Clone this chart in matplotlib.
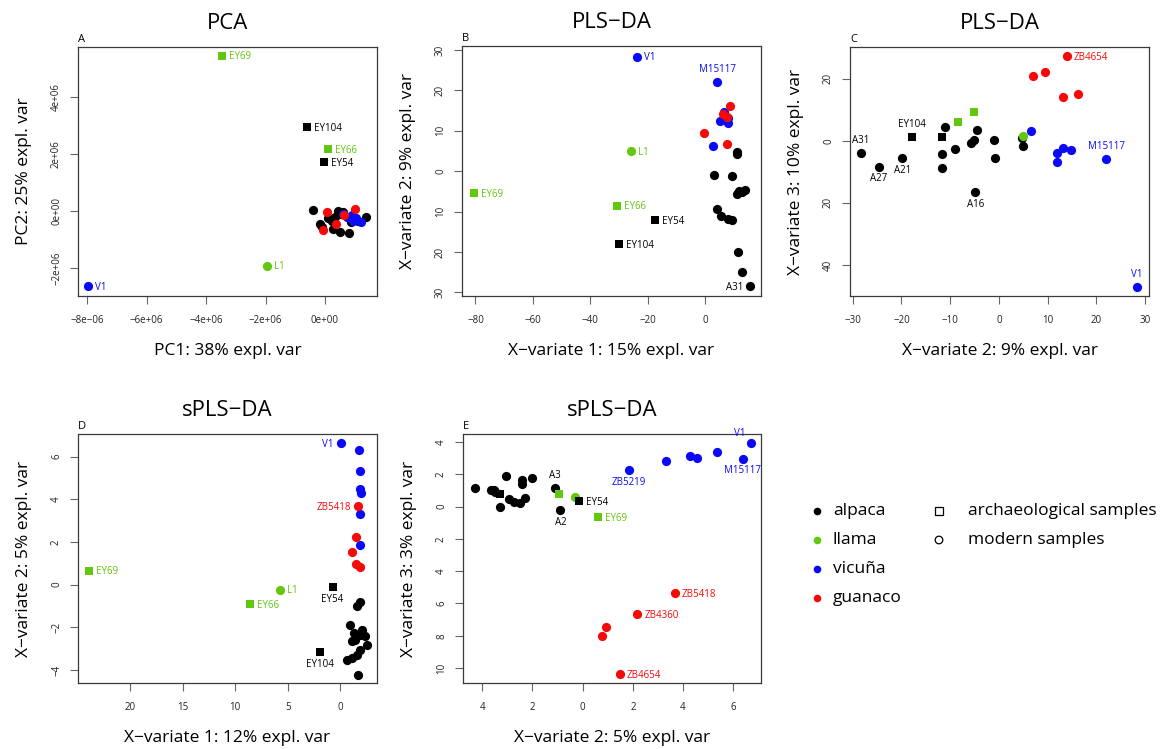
import matplotlib
matplotlib.use("Agg")
import matplotlib.pyplot as plt

plt.rcParams["font.family"] = ["Open Sans", "DejaVu Sans"]

W, H = 1166, 749

# sample order: 15 alpaca, llama L1, 7 vicuña, 5 guanaco, 4 archaeological
sample_ids = ["A31", "A27", "A21", "A16", "A3", "A2", "A5", "A7", "A9", "A11",
              "A12", "A14", "A18", "A23", "A25",
              "L1",
              "V1", "M15117", "ZB5219", "V2", "V3", "V4", "V5",
              "ZB4654", "ZB5418", "ZB4360", "G1", "G2",
              "EY104", "EY54", "EY66", "EY69"]
species = ["alpaca"] * 15 + ["llama"] + ["vicuña"] * 7 + ["guanaco"] * 5 + \
          ["alpaca", "alpaca", "llama", "llama"]
archaeological = [False] * 28 + [True] * 4

# A: PCA (units of 1e6)
pca_x = [-0.39, 0.45, 0.53, 1.38, -0.17, 0.11, 0.28, 0.50, 0.80, 0.23,
         0.87, 0.60, -0.10, 1.10, 0.35,
         -1.96,
         -7.96, 0.62, 0.90, 0.95, 1.20, 1.05, 0.75,
         0.08, 1.02, 0.36, -0.06, 0.65,
         -0.62, -0.03, 0.09, -3.48]
pca_y = [0.04, 0.01, -0.11, -0.22, -0.47, -0.26, -0.64, -0.73, -0.76, -0.34,
         -0.40, -0.05, -0.55, -0.35, -0.20,
         -1.92,
         -2.64, -0.12, -0.14, -0.34, -0.38, -0.25, -0.20,
         -0.04, 0.06, -0.47, -0.67, -0.15,
         2.95, 1.73, 2.18, 5.46]

# B: PLS-DA comp 1 vs 2
plsb_x = [15.7, 12.8, 11.6, 9.3, 11.0, 3.1, 9.3, 11.0, 12.8, 14.0,
          12.0, 4.3, 5.5, 8.1, 11.2,
          -25.8,
          -23.8, 4.3, 6.7, 5.2, 8.1, 8.1, 2.7,
          8.7, -0.3, 7.6, 6.2, 7.5,
          -29.9, -17.4, -30.6, -80.5]
plsb_y = [-28.5, -25.0, -20.0, -12.0, 4.7, -0.9, -1.2, -5.6, -5.2, -4.6,
          -4.9, -9.3, -11.2, -11.8, 4.3,
          4.9,
          28.4, 22.0, 14.6, 12.5, 13.2, 12.0, 6.3,
          16.2, 9.4, 6.8, 14.2, 13.5,
          -18.0, -12.0, -8.5, -5.4]

# C: PLS-DA comp 2 vs 3
plsc_x = [-28.3, -24.7, -19.8, -4.8, -11.1, -11.6, -11.7, -9.1, -5.7, -5.2,
          -4.5, -1.1, -0.7, 4.7, 5.0,
          5.0,
          28.3, 22.0, 6.5, 12.0, 13.2, 14.7, 11.9,
          13.9, 6.9, 9.5, 13.2, 16.3,
          -17.8, -11.7, -8.4, -5.1]
plsc_y = [-3.8, -8.3, -5.6, -16.6, 4.3, -4.3, -8.7, -2.7, -0.8, 0.1,
          3.5, 0.3, -5.7, 0.9, -1.8,
          1.6,
          -47.0, -5.9, 3.3, -3.8, -2.4, -3.1, -7.0,
          27.2, 20.8, 22.2, 14.1, 15.2,
          1.1, 1.1, 6.0, 9.2]

# D: sPLS-DA comp 1 vs 2
splsd_x = [1.84, 1.59, 0.95, 1.27, 1.11, 1.90, 2.38, 2.54, 1.90, 1.59,
           0.63, 1.11, 1.68, 1.43, 2.06,
           -5.71,
           0.06, 1.75, 1.90, 1.84, 1.97, 1.90, 1.84,
           1.52, 1.68, 1.11, 1.52, 1.90,
           -1.90, -0.73, -8.63, -23.9]
splsd_y = [-0.83, -0.98, -1.88, -2.27, -2.66, -2.34, -2.42, -2.81, -3.05, -3.28,
           -3.52, -3.44, -4.22, -2.58, -2.11,
           -0.23,
           6.64, 6.33, 5.31, 4.48, 4.30, 3.33, 1.84,
           2.22, 3.67, 1.53, 0.97, 0.83,
           -3.17, -0.13, -0.89, 0.66]

# E: sPLS-DA comp 2 vs 3
splse_x = [-4.31, -3.05, -2.40, -2.40, -1.09, -0.89, -2.03, -3.66, -3.48, -2.95,
           -2.75, -2.49, -2.29, -3.31, -3.55,
           -0.30,
           6.70, 6.38, 1.83, 5.34, 4.55, 4.28, 3.33,
           1.47, 3.68, 2.18, 0.92, 0.79,
           -3.28, -0.16, -0.96, 0.63]
splse_y = [1.16, 1.92, 1.67, 1.43, 1.16, -0.19, 1.78, 1.05, 0.93, 0.48,
           0.27, 0.23, 0.54, -0.02, 1.01,
           0.60,
           3.95, 2.98, 2.29, 3.39, 3.02, 3.16, 2.81,
           -10.35, -5.35, -6.65, -7.48, -8.00,
           0.81, 0.33, 0.81, -0.66]

# which samples get a text label in each panel, and on which side
labels_a = {"EY69": "r", "EY104": "r", "EY66": "r", "EY54": "r", "L1": "r", "V1": "r"}
labels_b = {"V1": "r", "M15117": "t", "L1": "r", "EY69": "r", "EY66": "r",
            "EY54": "r", "EY104": "r", "A31": "l"}
labels_c = {"ZB4654": "r", "M15117": "t", "V1": "t", "EY104": "t", "A31": "t",
            "A27": "b", "A21": "b", "A16": "b"}
labels_d = {"V1": "l", "ZB5418": "l", "EY69": "r", "L1": "r", "EY66": "r",
            "EY54": "b", "EY104": "b"}
labels_e = {"V1": "tl", "M15117": "b", "ZB5219": "b", "ZB5418": "r", "ZB4360": "r",
            "ZB4654": "r", "A3": "t", "A2": "b", "EY54": "r", "EY69": "r"}

species_colors = {"alpaca": "#000000", "llama": "#62C70E",
                  "vicuña": "#0A0AF5", "guanaco": "#F50A0A"}


def rect(l, t, r, b):
    return [l / W, 1 - b / H, (r - l) / W, (b - t) / H]


offsets = {"r": ((5, -1), "left", "center"), "l": ((-5, -1), "right", "center"),
           "t": ((0, 5), "center", "bottom"), "b": ((0, -5), "center", "top"),
           "tl": ((-4, 3), "right", "bottom")}


def draw_panel(box, xs, ys, scale, labels, title, letter, xlabel, ylabel,
               xlim, ylim, xticks, xticklabels, yticks, yticklabels):
    ax = fig.add_axes(rect(*box))
    wpx = box[2] - box[0]
    hpx = box[3] - box[1]
    for i in range(len(xs)):
        mk = "s" if archaeological[i] else "o"
        ax.scatter(xs[i] * scale, ys[i] * scale, s=34 if mk == "s" else 44,
                   marker=mk, color=species_colors[species[i]], linewidths=0,
                   zorder=3)
        sid = sample_ids[i]
        if sid in labels:
            off, ha, va = offsets[labels[sid]]
            ax.annotate(sid, (xs[i] * scale, ys[i] * scale), xytext=off,
                        textcoords="offset points", ha=ha, va=va, fontsize=7,
                        color=species_colors[species[i]], zorder=4)
    ax.set_xlim(*xlim)
    ax.set_ylim(*ylim)
    ax.set_xticks(xticks)
    ax.set_xticklabels(xticklabels)
    ax.set_yticks(yticks)
    ax.set_yticklabels(yticklabels, rotation=90, va="center")
    ax.tick_params(direction="out", length=5.5, width=0.8, color="#666666",
                   labelsize=7, labelcolor="#222222")
    ax.tick_params(axis="x", pad=8)
    ax.tick_params(axis="y", pad=6)
    for s in ax.spines.values():
        s.set_color("#3a3a3a")
        s.set_linewidth(0.9)
    ax.text(0.5, 1 + 24 / hpx, title, transform=ax.transAxes, ha="center",
            va="center", fontsize=16)
    ax.text(0, 1 + 2 / hpx, letter, transform=ax.transAxes, ha="left",
            va="bottom", fontsize=8)
    ax.text(0.5, -55 / hpx, xlabel, transform=ax.transAxes, ha="center",
            va="center", fontsize=12.5)
    ax.text(-54 / wpx, 0.5, ylabel, transform=ax.transAxes, ha="center",
            va="center", rotation=90, fontsize=12.5)
    return ax


fig = plt.figure(figsize=(W / 100, H / 100), dpi=100)

draw_panel((78, 47, 377, 296), pca_x, pca_y, 1e6, labels_a, "PCA", "A",
           "PC1: 38% expl. var", "PC2: 25% expl. var",
           (-8.31e6, 1.75e6), (-2.99e6, 5.76e6),
           [-8e6, -6e6, -4e6, -2e6, 0],
           ["\u22128e\u221206", "\u22126e+06", "\u22124e+06", "\u22122e+06", "0e+00"],
           [-2e6, 0, 2e6, 4e6], ["\u22122e+06", "0e+00", "2e+06", "4e+06"])

draw_panel((462, 46, 761, 296), plsb_x, plsb_y, 1, labels_b, "PLS\u2212DA", "B",
           "X\u2212variate 1: 15% expl. var", "X\u2212variate 2: 9% expl. var",
           (-84.7, 19.5), (-30.9, 31.0),
           [-80, -60, -40, -20, 0],
           ["\u221280", "\u221260", "\u221240", "\u221220", "0"],
           [30, 20, 10, 0, -10, -20, -30], ["30", "20", "10", "0", "10", "20", "30"])

draw_panel((850, 47, 1149, 296), plsc_x, plsc_y, 1, labels_c, "PLS\u2212DA", "C",
           "X\u2212variate 2: 9% expl. var", "X\u2212variate 3: 10% expl. var",
           (-30.55, 30.8), (-50.0, 30.2),
           [-30, -20, -10, 0, 10, 20, 30],
           ["\u221230", "\u221220", "\u221210", "0", "10", "20", "30"],
           [20, 0, -20, -40], ["20", "0", "20", "40"])

draw_panel((78, 434, 377, 683), splsd_x, splsd_y, 1, labels_d, "sPLS\u2212DA", "D",
           "X\u2212variate 1: 12% expl. var", "X\u2212variate 2: 5% expl. var",
           (-24.98, 3.5), (-4.61, 7.06),
           [-20, -15, -10, -5, 0], ["20", "15", "10", "5", "0"],
           [6, 4, 2, 0, -2, -4], ["6", "4", "2", "0", "\u22122", "\u22124"])

draw_panel((463, 434, 761, 683), splse_x, splse_y, 1, labels_e, "sPLS\u2212DA", "E",
           "X\u2212variate 2: 5% expl. var", "X\u2212variate 3: 3% expl. var",
           (-4.77, 7.11), (-10.93, 4.5),
           [-4, -2, 0, 2, 4, 6], ["4", "2", "0", "2", "4", "6"],
           [4, 2, 0, -2, -4, -6, -8, -10], ["4", "2", "0", "2", "4", "6", "8", "10"])

# legend
leg = fig.add_axes([0, 0, 1, 1], facecolor="none")
leg.set_xlim(0, W)
leg.set_ylim(H, 0)
leg.axis("off")
species_order = ["alpaca", "llama", "vicuña", "guanaco"]
legend_rows = [510.7, 540, 569, 598.3]
for name, yy in zip(species_order, legend_rows):
    leg.scatter(817, yy, s=30, color=species_colors[name], linewidths=0)
    leg.text(833, yy, name, ha="left", va="center", fontsize=12.5)
type_names = ["archaeological samples", "modern samples"]
type_markers = ["s", "o"]
for name, mk, yy in zip(type_names, type_markers, legend_rows[:2]):
    leg.scatter(939, yy, s=30, marker=mk, facecolors="none", edgecolors="black",
                linewidths=0.9)
    leg.text(968, yy, name, ha="left", va="center", fontsize=12.5)

fig.savefig("out.png", dpi=100)
